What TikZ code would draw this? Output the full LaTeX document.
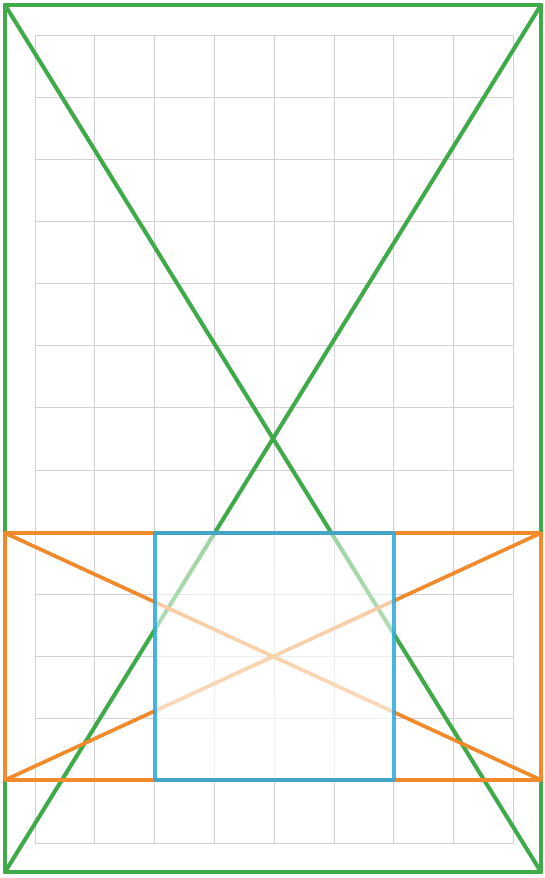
\documentclass[tikz,border=0pt]{standalone}
\usetikzlibrary{fadings}
\definecolor{framegreen}{RGB}{62,170,72}
\definecolor{barorange}{RGB}{240,138,42}
\definecolor{squareblue}{RGB}{40,170,225}
\definecolor{gridgray}{RGB}{208,208,214}
\tikzfading[name=squarefade, top color=transparent!50, bottom color=transparent!25]
\begin{document}
\begin{tikzpicture}[x=0.02cm, y=-0.02cm, line join=round, line cap=round]
	\useasboundingbox (0,0) rectangle (544,878);
	% grid
	\foreach \i in {0,...,8}
		\draw[gridgray,line width=0.5pt] ({35+59.8*\i},35) -- ++(0,808);
	\foreach \j in {0,...,13}
		\draw[gridgray,line width=0.5pt] (35,{35+62.15*\j}) -- ++(478,0);
	% green frame and its diagonals
	\coordinate (gA) at (5,5);
	\coordinate (gB) at (541,5);
	\coordinate (gC) at (541,872);
	\coordinate (gD) at (5,872);
	\draw[framegreen,line width=2.3pt] (gA) -- (gC) (gB) -- (gD);
	\draw[framegreen,line width=2.6pt,line cap=butt] (gA) rectangle (gC);
	% orange band and its diagonals
	\coordinate (oA) at (5,533);
	\coordinate (oB) at (541,533);
	\coordinate (oC) at (541,780);
	\coordinate (oD) at (5,780);
	\draw[barorange,line width=2.1pt] (oA) -- (oC) (oB) -- (oD);
	\fill[white,path fading=squarefade] (155,533) rectangle (394,780);
	\draw[barorange,line width=2.1pt] (oA) rectangle (oC);
	% blue square
	\draw[squareblue,line width=2pt,draw opacity=0.85] (155,533) rectangle (394,780);
\end{tikzpicture}
\end{document}
